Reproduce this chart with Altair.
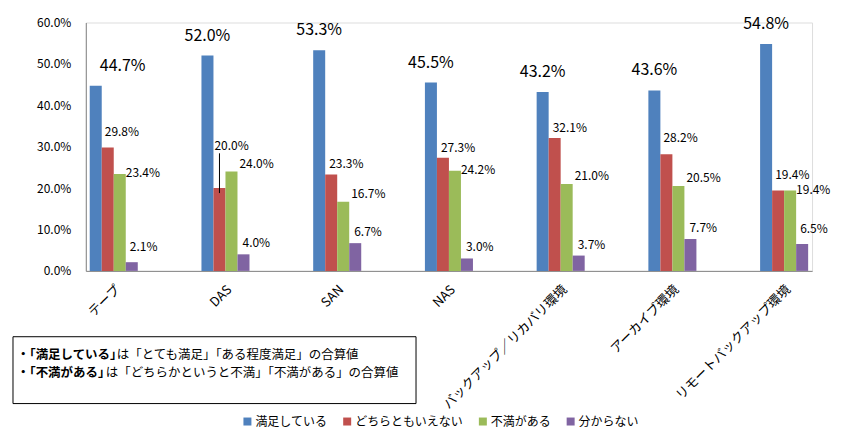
import altair as alt
import pandas as pd

categories = ["テープ", "DAS", "SAN", "NAS", "バックアップ／リカバリ環境", "アーカイブ環境", "リモートバックアップ環境"]
series = ["満足している", "どちらともいえない", "不満がある", "分からない"]
satisfied = [44.7, 52.0, 53.3, 45.5, 43.2, 43.6, 54.8]
neutral = [29.8, 20.0, 23.3, 27.3, 32.1, 28.2, 19.4]
dissatisfied = [23.4, 24.0, 16.7, 24.2, 21.0, 20.5, 19.4]
unknown = [2.1, 4.0, 6.7, 3.0, 3.7, 7.7, 6.5]
y_ticks = [0.0, 0.1, 0.2, 0.3, 0.4, 0.5, 0.6]
note_bold = ["・「満足している」", "・「不満がある」"]
note_rest = ["は「とても満足」「ある程度満足」の合算値", "は「どちらかというと不満」「不満がある」の合算値"]

colors = ["#4F81BD", "#C0504D", "#9BBB59", "#8064A2"]
FONT = "Noto Sans CJK JP"

rows = []
for i, c in enumerate(categories):
    for s, vals in zip(series, [satisfied, neutral, dissatisfied, unknown]):
        rows.append({"cat": c, "series": s, "value": vals[i] / 100})
df = pd.DataFrame(rows)

base = alt.Chart(df).encode(
    x=alt.X("cat:N", sort=categories, title=None,
            scale=alt.Scale(paddingInner=0.57, paddingOuter=0.035),
            axis=alt.Axis(labelAngle=-45, labelFontSize=13, labelPadding=12, ticks=False,
                          domainColor="#868686", labelColor="#000000", labelFont=FONT)),
    xOffset=alt.XOffset("series:N", sort=series, scale=alt.Scale(paddingInner=0, paddingOuter=0)),
    y=alt.Y("value:Q", title=None, scale=alt.Scale(domain=[0, 0.6], nice=False),
            axis=alt.Axis(format=".1%", values=y_ticks, grid=False, ticks=False, labelPadding=15,
                          domainColor="#868686", labelFontSize=12, labelColor="#000000", labelFont=FONT)),
)

bars = base.mark_bar().encode(
    color=alt.Color("series:N", sort=series,
                    scale=alt.Scale(domain=series, range=colors),
                    legend=alt.Legend(title=None, orient="none", legendX=156, legendY=394,
                                      direction="horizontal", symbolType="square", symbolSize=64,
                                      symbolStrokeWidth=0, labelFontSize=12, columnPadding=13,
                                      labelOffset=2, labelFont=FONT, labelColor="#000000"))
)

txt = alt.Text("value:Q", format=".1%")
S, N, D, U = series
c = categories


def in_cats(names):
    return alt.FieldOneOfPredicate(field="cat", oneOf=names)


def label(series_name, names, **kw):
    return base.transform_filter(alt.datum.series == series_name).transform_filter(in_cats(names)).mark_text(
        baseline="middle", color="#000000", **kw).encode(text=txt)


blue_tape = label(S, [c[0]], fontSize=16, dy=-20, dx=27, align="center")
blue_rest = label(S, c[1:], fontSize=16, dy=-20, align="center")

red_a = label(N, [c[0], c[5], c[6]], fontSize=12, dy=-16, dx=-3, align="left")
red_b = label(N, [c[2], c[3], c[4]], fontSize=12, dy=-10, dx=-2, align="left")
red_das = label(N, [c[1]], fontSize=12, dy=-42, dx=-5, align="left")
red_leader = base.transform_filter((alt.datum.series == N) & (alt.datum.cat == "DAS")).transform_calculate(
    lo="datum.value - 0.012", hi="datum.value + 0.084").mark_rule(color="#000000", strokeWidth=1).encode(
    y=alt.Y("lo:Q", title=None), y2="hi:Q")

green_a = label(D, [c[1], c[2], c[4], c[5]], fontSize=12, dy=-8, dx=8, align="left")
green_b = label(D, [c[0], c[3], c[6]], fontSize=12, dy=-1, dx=6, align="left")

purple_a = label(U, [c[0], c[6]], fontSize=12, dy=-15, dx=-2, align="left")
purple_b = label(U, c[1:6], fontSize=12, dy=-11, dx=-1, align="left")

note_df = pd.DataFrame({"k": [0]})
box = alt.Chart(note_df).mark_rect(fill="white", stroke="#000000", strokeWidth=1).encode(
    x=alt.value(-73), x2=alt.value(331), y=alt.value(315), y2=alt.value(382))

note_layers = []
rest_x = [31, 20]
for j in range(2):
    yy = 333 + j * 18
    note_layers.append(alt.Chart(pd.DataFrame({"t": [note_bold[j]]})).mark_text(
        align="left", baseline="middle", fontSize=12.5, fontWeight="bold", font=FONT, color="#000000").encode(
        x=alt.value(-69), y=alt.value(yy), text="t:N"))
    note_layers.append(alt.Chart(pd.DataFrame({"t": [note_rest[j]]})).mark_text(
        align="left", baseline="middle", fontSize=12.5, font=FONT, color="#000000").encode(
        x=alt.value(rest_x[j]), y=alt.value(yy), text="t:N"))

chart = alt.layer(bars, blue_tape, blue_rest, red_a, red_b, red_das, red_leader,
                  green_a, green_b, purple_a, purple_b, box, *note_layers).properties(
    width=728, height=249,
    autosize=alt.AutoSizeParams(type="none"),
    padding={"left": 78, "top": 14, "right": 25, "bottom": 170},
).configure_view(stroke=None).configure(font=FONT, background="white")

chart.save("out.html", embed_options={"renderer": "svg", "actions": False})
